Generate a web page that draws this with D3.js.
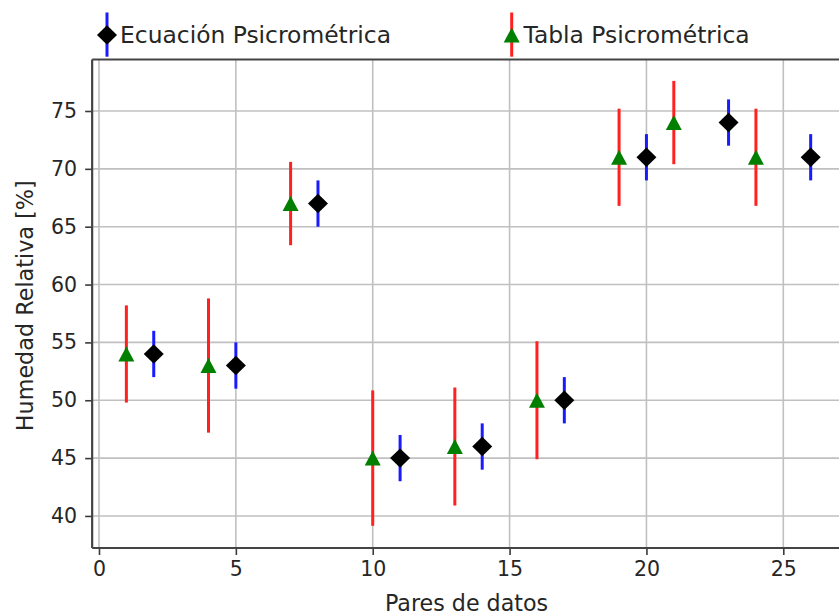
<!DOCTYPE html>
<html><head><meta charset="utf-8">
<script src="https://cdn.jsdelivr.net/npm/d3@7"></script>
<style>body{margin:0;background:#fff}svg{display:block}text{font-family:"DejaVu Sans",sans-serif;fill:#262626}</style>
</head><body>
<script>
const tablaX = [1, 4, 7, 10, 13, 16, 19, 21, 24];
const tablaY = [54, 53, 67, 45, 46, 50, 71, 74, 71];
const tablaErr = [4.2, 5.8, 3.6, 5.85, 5.1, 5.1, 4.2, 3.6, 4.2];
const ecuX = [2, 5, 8, 11, 14, 17, 20, 23, 26];
const ecuY = [54, 53, 67, 45, 46, 50, 71, 74, 71];
const ecuErr = [2, 2, 2, 2, 2, 2, 2, 2, 2];
const xTicks = [0, 5, 10, 15, 20, 25];
const yTicks = [40, 45, 50, 55, 60, 65, 70, 75];
const legendLabels = ["Ecuación Psicrométrica", "Tabla Psicrométrica"];

(function () {
const W = 839, H = 615;
const svg = d3.select("body").append("svg").attr("width", W).attr("height", H);
const x = d3.scaleLinear().domain([0, 25]).range([99, 783.3]);
const xMin = -0.25, xMax = 27.25;
const y = d3.scaleLinear().domain([37.23, 79.45]).range([548, 59.5]);
const pL = x(xMin), pR = x(xMax), pT = y(79.45), pB = y(37.23);

// grid
svg.append("g").selectAll("line").data(xTicks).join("line")
  .attr("x1", d => x(d)).attr("x2", d => x(d)).attr("y1", pT).attr("y2", pB)
  .attr("stroke", "#c0c0c0").attr("stroke-width", 1.6);
svg.append("g").selectAll("line").data(yTicks).join("line")
  .attr("x1", pL).attr("x2", pR).attr("y1", d => y(d)).attr("y2", d => y(d))
  .attr("stroke", "#c0c0c0").attr("stroke-width", 1.6);

// axes
const xAxis = d3.axisBottom(x).tickValues(xTicks).tickSize(7).tickPadding(6).tickFormat(d3.format("d"));
const yAxis = d3.axisLeft(y).tickValues(yTicks).tickSize(7).tickPadding(8).tickFormat(d3.format("d"));
const gx = svg.append("g").attr("transform", `translate(0,${pB})`).call(xAxis);
const gy = svg.append("g").attr("transform", `translate(${pL},0)`).call(yAxis);
[gx, gy].forEach(g => {
  g.select(".domain").remove();
  g.selectAll(".tick line").attr("stroke", "#3a3a3a").attr("stroke-width", 1.6);
  g.selectAll(".tick text").attr("font-size", 20.5).attr("font-family", "DejaVu Sans").attr("fill", "#262626");
});
// spines
svg.append("line").attr("x1", pL).attr("x2", pL).attr("y1", pT).attr("y2", pB).attr("stroke", "#444").attr("stroke-width", 2.2);
svg.append("line").attr("x1", pL).attr("x2", pR).attr("y1", pB).attr("y2", pB).attr("stroke", "#444").attr("stroke-width", 2.2);
svg.append("line").attr("x1", pL).attr("x2", pR).attr("y1", pT).attr("y2", pT).attr("stroke", "#444").attr("stroke-width", 2.2);

// labels
svg.append("text").attr("x", (pL + pR) / 2 - 2).attr("y", 611).attr("text-anchor", "middle")
  .attr("font-size", 22.2).text("Pares de datos");
svg.append("text").attr("transform", `translate(33,${(pT + pB) / 2 + 2}) rotate(-90)`).attr("text-anchor", "middle")
  .attr("font-size", 22.3).text("Humedad Relativa [%]");

const triPath = "M0,-7.5L8,7.5L-8,7.5Z";
const diaPath = "M0,-9.7L10,0L0,9.7L-10,0Z";

function drawSeries(xs, ys, errs, color, marker, mcolor) {
  const g = svg.append("g");
  g.selectAll("line").data(xs).join("line")
    .attr("x1", (d) => x(d)).attr("x2", (d) => x(d))
    .attr("y1", (d, i) => y(ys[i] - errs[i])).attr("y2", (d, i) => y(ys[i] + errs[i]))
    .attr("stroke", color).attr("stroke-width", 3);
  g.selectAll("path").data(xs).join("path")
    .attr("d", marker).attr("fill", mcolor)
    .attr("transform", (d, i) => `translate(${x(d)},${y(ys[i])})`);
}
drawSeries(tablaX, tablaY, tablaErr, "#ff2020", triPath, "#007f00");
drawSeries(ecuX, ecuY, ecuErr, "#1a1aff", diaPath, "#000");

// legend
const leg = [
  {mx: 107, color: "#1a1aff", mcolor: "#000", path: diaPath, tx: 120, label: legendLabels[0]},
  {mx: 511.7, color: "#ff2020", mcolor: "#007f00", path: triPath, tx: 523.5, label: legendLabels[1]}
];
leg.forEach(l => {
  svg.append("line").attr("x1", l.mx).attr("x2", l.mx).attr("y1", 12.5).attr("y2", 56.7)
    .attr("stroke", l.color).attr("stroke-width", 3);
  svg.append("path").attr("d", l.path).attr("fill", l.mcolor).attr("transform", `translate(${l.mx},35)`);
  svg.append("text").attr("x", l.tx).attr("y", 43).attr("font-size", 23.4).text(l.label);
});
})();
</script>
</body></html>
